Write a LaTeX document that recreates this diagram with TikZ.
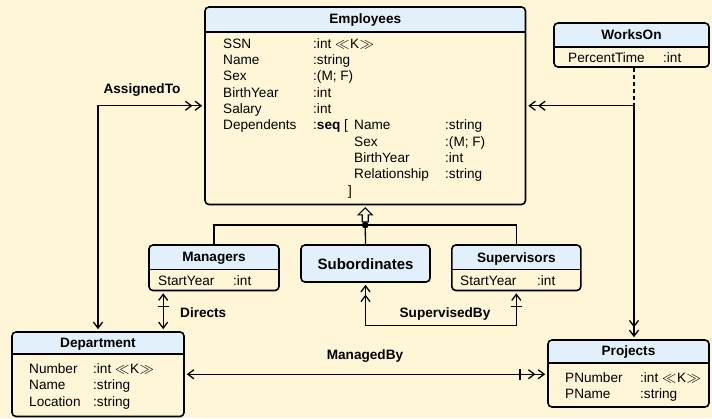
\documentclass[tikz,border=0pt]{standalone}
\usepackage{fontspec}
\setmainfont{Liberation Sans}
\usetikzlibrary{arrows.meta,calc}
\definecolor{bgc}{RGB}{255,245,215}
\definecolor{hdc}{RGB}{225,240,250}
\newcommand\keymark{$\ll$\kern0.5pt K\kern0.5pt$\gg$}
\tikzset{
  Hd/.tip={Straight Barb[length=6pt,width=9pt]},
  HHd/.tip={Straight Barb[length=6pt,width=9pt,sep=2pt]Straight Barb[length=6pt,width=9pt]},
  BHd/.tip={Bar[width=11pt,sep=5pt]Straight Barb[length=6pt,width=9pt]},
  BHHd/.tip={Bar[width=11pt,sep=7pt]Straight Barb[length=6pt,width=9pt,sep=2pt]Straight Barb[length=6pt,width=9pt]},
}
\begin{document}
\begin{tikzpicture}[x=1pt,y=-1pt,
  box/.style={draw, line width=1.6pt, rounded corners=4pt, inner sep=0pt, fill=bgc},
  hbox/.style={box, path picture={
      \fill[hdc] (path picture bounding box.north west) rectangle ([yshift=-#1]path picture bounding box.north east);
      \draw[line width=1.6pt] ([yshift=-#1]path picture bounding box.north west) -- ([yshift=-#1]path picture bounding box.north east);}},
  txt/.style={font=\fontsize{13.6}{16.3}\selectfont, inner sep=0pt, anchor=base west},
  ttl/.style={font=\fontsize{13.6}{16.3}\selectfont\bfseries, inner sep=0pt, anchor=base},
  conn/.style={line width=1.3pt},
  ]
\path[use as bounding box, fill=bgc] (0,0) rectangle (712,418);

% boxes
\node[hbox=25pt, minimum width=320.5pt, minimum height=197.5pt] (emp) at (365.25,105.75) {};
\node[hbox=24pt, minimum width=155pt, minimum height=44pt] (works) at (631.5,45) {};
\node[hbox=24.5pt, minimum width=130pt, minimum height=45.5pt] (mgr) at (214,267.75) {};
\node[box, fill=hdc, minimum width=129pt, minimum height=37pt] (sub) at (365.5,263.5) {};
\node[hbox=24.5pt, minimum width=129pt, minimum height=45.5pt] (sup) at (516.3,267.75) {};
\node[hbox=22pt, minimum width=172pt, minimum height=84.5pt] (dept) at (98,374.25) {};
\node[hbox=23pt, minimum width=161pt, minimum height=67pt] (proj) at (628.5,373.5) {};

% titles
\node[ttl] (empT) at (365.25,23) {Employees};
\node[ttl] (worksT) at (631.5,39.5) {WorksOn};
\node[ttl] (mgrT) at (214,261.5) {Managers};
\node[ttl] (supT) at (516.3,262) {Supervisors};
\node[ttl] (deptT) at (98,347) {Department};
\node[ttl] (projT) at (628.5,355) {Projects};
\node[inner sep=0pt, anchor=base, font=\fontsize{15}{18}\selectfont\bfseries] (subT) at (365.5,269) {Subordinates};

% bodies
\node[txt] (empB) at (223,48.3) {\begin{tabular}[t]{@{}p{90pt}@{}p{41pt}@{}p{91pt}@{}l@{}}
SSN & \multicolumn{3}{@{}l@{}}{:int \keymark}\\
Name & \multicolumn{3}{@{}l@{}}{:string}\\
Sex & \multicolumn{3}{@{}l@{}}{:(M; F)}\\
BirthYear & \multicolumn{3}{@{}l@{}}{:int}\\
Salary & \multicolumn{3}{@{}l@{}}{:int}\\
Dependents & :\textbf{seq} [ & Name & :string\\
 & & Sex & :(M; F)\\
 & & BirthYear & :int\\
 & & Relationship & :string\\
 & \hspace*{35pt}] & & \\
\end{tabular}};
\node[txt] (worksB) at (568,62) {\begin{tabular}[t]{@{}p{95pt}@{}l@{}}PercentTime & :int\end{tabular}};
\node[txt] (mgrB) at (158,285) {\begin{tabular}[t]{@{}p{75pt}@{}l@{}}StartYear & :int\end{tabular}};
\node[txt] (supB) at (460,285) {\begin{tabular}[t]{@{}p{77pt}@{}l@{}}StartYear & :int\end{tabular}};
\node[txt] (deptB) at (29,373.5) {\begin{tabular}[t]{@{}p{64pt}@{}l@{}}
Number & :int \keymark\\
Name & :string\\
Location & :string
\end{tabular}};
\node[txt] (projB) at (565,382.5) {\begin{tabular}[t]{@{}p{75pt}@{}l@{}}
PNumber & :int \keymark\\
PName & :string
\end{tabular}};

% labels
\node[ttl] (lAssigned) at (142,93.3) {AssignedTo};
\node[ttl, anchor=base west] (lDirects) at (180,317.3) {Directs};
\node[ttl] (lSuper) at (445,317) {SupervisedBy};
\node[ttl] (lManaged) at (365,359) {ManagedBy};

% inheritance
\node[circle, fill, inner sep=0pt, minimum size=6.5pt] (jn) at (365.25,225) {};
\draw[conn] (mgr.north) |- (jn.center) -| (sup.north);
\draw[conn] (jn.center) -- (sub.north);
\draw[line width=1.1pt, fill=bgc, line join=miter] ([yshift=-2.5pt]emp.south) -- ++(-7,7) -- ++(4,0) -- ++(0,7) -- ++(6,0) -- ++(0,-7) -- ++(4,0) -- cycle;
\node[circle, fill, inner sep=0pt, minimum size=6.5pt] at (jn) {};

% connectors
\draw[conn, {Hd}-{HHd}, shorten <=2pt, shorten >=2pt] (dept.north) |- (emp.west);
\coordinate (dtop) at ([xshift=15pt]mgr.south west);
\draw[conn, {Hd}-{BHd}, shorten <=2pt, shorten >=2pt] (dtop |- dept.north) -- (dtop);
\coordinate (sbc) at ($(sup.south)+(0,34)$);
\draw[conn, {HHd}-{BHd}, shorten <=2pt, shorten >=2pt] (sub.south) |- (sbc) -- (sup.south);
\draw[conn, {Hd}-{BHHd}, shorten <=2pt, shorten >=2pt] (dept.east) -- (dept.east -| proj.west);
\coordinate (wj) at (634,105.75);
\draw[conn, dash pattern=on 4pt off 3pt] (works.south -| wj) -- (wj);
\draw[conn, -{HHd}, shorten >=2pt] (wj) -- (emp.east);
\draw[conn, -{HHd}, shorten >=2pt] (wj) -- (wj |- proj.north);
\end{tikzpicture}
\end{document}
